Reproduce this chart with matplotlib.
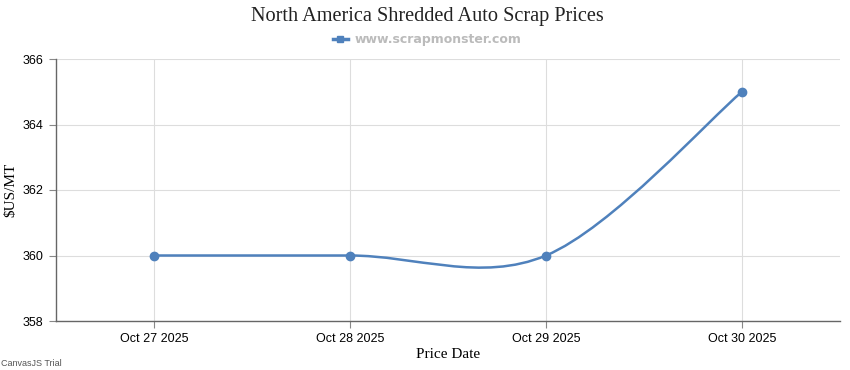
import numpy as np
import matplotlib
matplotlib.use('Agg')
import matplotlib.pyplot as plt
from matplotlib.path import Path
from matplotlib.patches import PathPatch
from matplotlib.lines import Line2D

dates=['Oct 27 2025','Oct 28 2025','Oct 29 2025','Oct 30 2025']
prices=[360,360,360,365]
yticks=[358,360,362,364,366]
lineColor='#4F81BC'

def splinePath(x,y):
	# cardinal spline like CanvasJS, endpoints duplicated
	p=np.column_stack([x,y]).astype(float)
	ext=np.vstack([p[0],p,p[-1]])
	verts=[tuple(p[0])]
	codes=[Path.MOVETO]
	for i in range(len(p)-1):
		p0,p1,p2,p3=ext[i],ext[i+1],ext[i+2],ext[i+3]
		c1=p1+(p2-p0)/6
		c2=p2-(p3-p1)/6
		verts+= [tuple(c1),tuple(c2),tuple(p2)]
		codes+= [Path.CURVE4]*3
	return Path(verts,codes)

tickFont=['Liberation Sans','DejaVu Sans']
fig=plt.figure(figsize=(8.5,3.7),dpi=100)
ax=fig.add_axes([56/850,1-321/370,(840-56)/850,(321-59)/370])
xs=np.arange(len(dates))
ax.add_patch(PathPatch(splinePath(xs,prices),facecolor='none',edgecolor=lineColor,linewidth=1.8,zorder=3))
ax.plot(xs,prices,'o',color=lineColor,markersize=6,zorder=4)
ax.set_xlim(-0.5,len(dates)-0.5)
ax.set_ylim(358,366)
ax.set_xticks(xs)
ax.set_xticklabels(dates,fontsize=9,family=tickFont)
ax.set_yticks(yticks)
ax.set_yticklabels([str(v) for v in yticks],fontsize=9,family=tickFont)
ax.grid(color='#dddddd',linewidth=0.8)
ax.set_axisbelow(True)
for s in ['top','right']:
	ax.spines[s].set_visible(False)
for s in ['left','bottom']:
	ax.spines[s].set_color('#666666')
	ax.spines[s].set_linewidth(1)
ax.tick_params(axis='both',length=5,width=0.8,color='#888888',labelcolor='black',pad=4)
ax.set_xlabel('Price Date',family='Liberation Serif',fontsize=11,labelpad=2)
ax.set_ylabel('$US/MT',family='Liberation Serif',fontsize=11,va='center')
ax.yaxis.set_label_coords(-45/784,0.5)
fig.text(427/850,1-16/370,'North America Shredded Auto Scrap Prices',family='Liberation Serif',fontsize=14.6,ha='center',va='center',color='#222222')
h=Line2D([0],[0],color=lineColor,linewidth=2.5,marker='s',markersize=5)
fig.legend([h],['www.scrapmonster.com'],loc='center',bbox_to_anchor=(427/850,1-40/370),frameon=False,
	prop={'family':'DejaVu Sans','weight':'bold','size':9},labelcolor='#bbbbbb',handlelength=1.2,handletextpad=0.5)
fig.text(1/850,1-364/370,'CanvasJS Trial',fontsize=6.5,color='#555555',ha='left',va='center',family=tickFont)
fig.savefig('out.png',dpi=100)
